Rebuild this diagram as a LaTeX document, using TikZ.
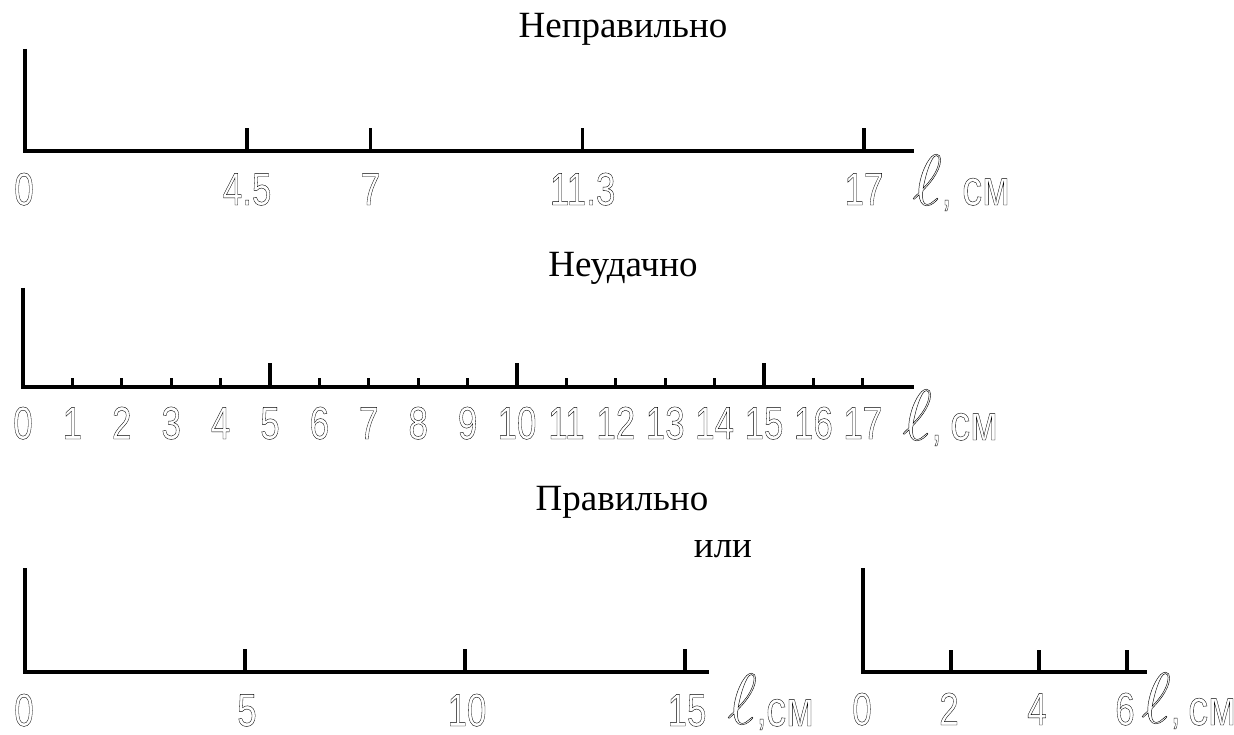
\documentclass[tikz,border=0pt]{standalone}
\usepackage{fontspec}
\setmainfont{Liberation Serif}
\newfontfamily\digf{Liberation Sans}
\newcommand\olx[2][0.4]{\special{pdf:code 1 Tr #1 w}#2\special{pdf:code 0 Tr}}
\newcommand\dg[1]{\olx{\scalebox{0.76}[1]{#1}}}
\newcommand\ellsym{\scalebox{2.9}{\olx[0.15]{\fontsize{24.88}{28}\selectfont$\ell$\kern1pt}}\kern-3pt}
\newcommand\cmtext{\olx{\fontsize{50}{50}\selectfont\scalebox{0.8}[1]{см}}}
\tikzset{
  axisline/.style={line width=4pt, line join=miter},
  tickline/.style={line width=3.3pt},
  dig/.style={anchor=base, inner sep=0pt, font=\digf\fontsize{46}{46}\selectfont},
  unitlab/.style={anchor=base west, inner sep=0pt, font=\digf\fontsize{46}{46}\selectfont},
  ttl/.style={anchor=base, inner sep=0pt, font=\fontsize{37}{40}\selectfont},
}
\begin{document}
\begin{tikzpicture}[x=1pt,y=-1pt]
\useasboundingbox (0,0) rectangle (1234,735);

% titles
\node[ttl] (t1) at (623,38) {Неправильно};
\node[ttl] (t2) at (623,277) {Неудачно};
\node[ttl] (t3) at (622,510) {Правильно};
\node[ttl] (t4) at (723,557) {или};

% ---------- diagram 1 ----------
\coordinate (o1) at (25,151);
\coordinate (y1) at (25,49);
\coordinate (e1) at (914,151);
\draw[axisline] (y1) -- (o1) -- (e1);
\node[dig] (a1l0) at (24,205) {\dg{0}};
\foreach \v [count=\i] in {4.5,7,11.3,17}{
  \coordinate (a1t\i) at (25+49.35*\v,151);
  \draw[tickline] (a1t\i) -- ++(0,-23);
  \node[dig] (a1l\i) at (25+49.35*\v,205) {\dg{\v}};
}
\node[unitlab] (ell1) at (912,205) {\ellsym\dg{,}};
\node[unitlab] (cm1) at (962,205) {\cmtext};

% ---------- diagram 2 ----------
\coordinate (o2) at (23,387);
\coordinate (y2) at (23,288);
\coordinate (e2) at (914,387);
\draw[axisline] (y2) -- (o2) -- (e2);
\node[dig] (a2l0) at (23,439) {\dg{0}};
\foreach \v in {1,...,17}{
  \pgfmathsetmacro{\th}{ifthenelse(mod(\v,5)==0,24,9)}
  \coordinate (a2t\v) at (23+49.4*\v,387);
  \draw[tickline] (a2t\v) -- ++(0,-\th);
  \node[dig] (a2l\v) at (23+49.4*\v,439) {\dg{\v}};
}
\node[unitlab] (ell2) at (902,440) {\ellsym\dg{,}};
\node[unitlab] (cm2) at (950,440) {\cmtext};

% ---------- diagram 3 ----------
\coordinate (o3) at (25,672);
\coordinate (y3) at (25,568);
\coordinate (e3) at (709,672);
\draw[axisline] (y3) -- (o3) -- (e3);
\node[dig] (a3l0) at (24,726) {\dg{0}};
\foreach \v in {5,10,15}{
  \coordinate (a3t\v) at (25+44*\v,672);
  \draw[tickline] (a3t\v) -- ++(0,-23);
  \node[dig] (a3l\v) at (27+44*\v,726) {\dg{\v}};
}
\node[unitlab] (ell3) at (727,724) {\ellsym\dg{,}};
\node[unitlab] (cm3) at (766,726) {\cmtext};

% ---------- diagram 4 ----------
\coordinate (o4) at (863,672);
\coordinate (y4) at (863,568);
\coordinate (e4) at (1147,672);
\draw[axisline] (y4) -- (o4) -- (e4);
\node[dig] (a4l0) at (862,725) {\dg{0}};
\foreach \v in {2,4,6}{
  \coordinate (a4t\v) at (863+44*\v,672);
  \draw[tickline] (a4t\v) -- ++(0,-22);
  \node[dig] (a4l\v) at (861+44*\v,725) {\dg{\v}};
}
\node[unitlab] (ell4) at (1141,723) {\ellsym\dg{,}};
\node[unitlab] (cm4) at (1188,725) {\cmtext};
\end{tikzpicture}
\end{document}
